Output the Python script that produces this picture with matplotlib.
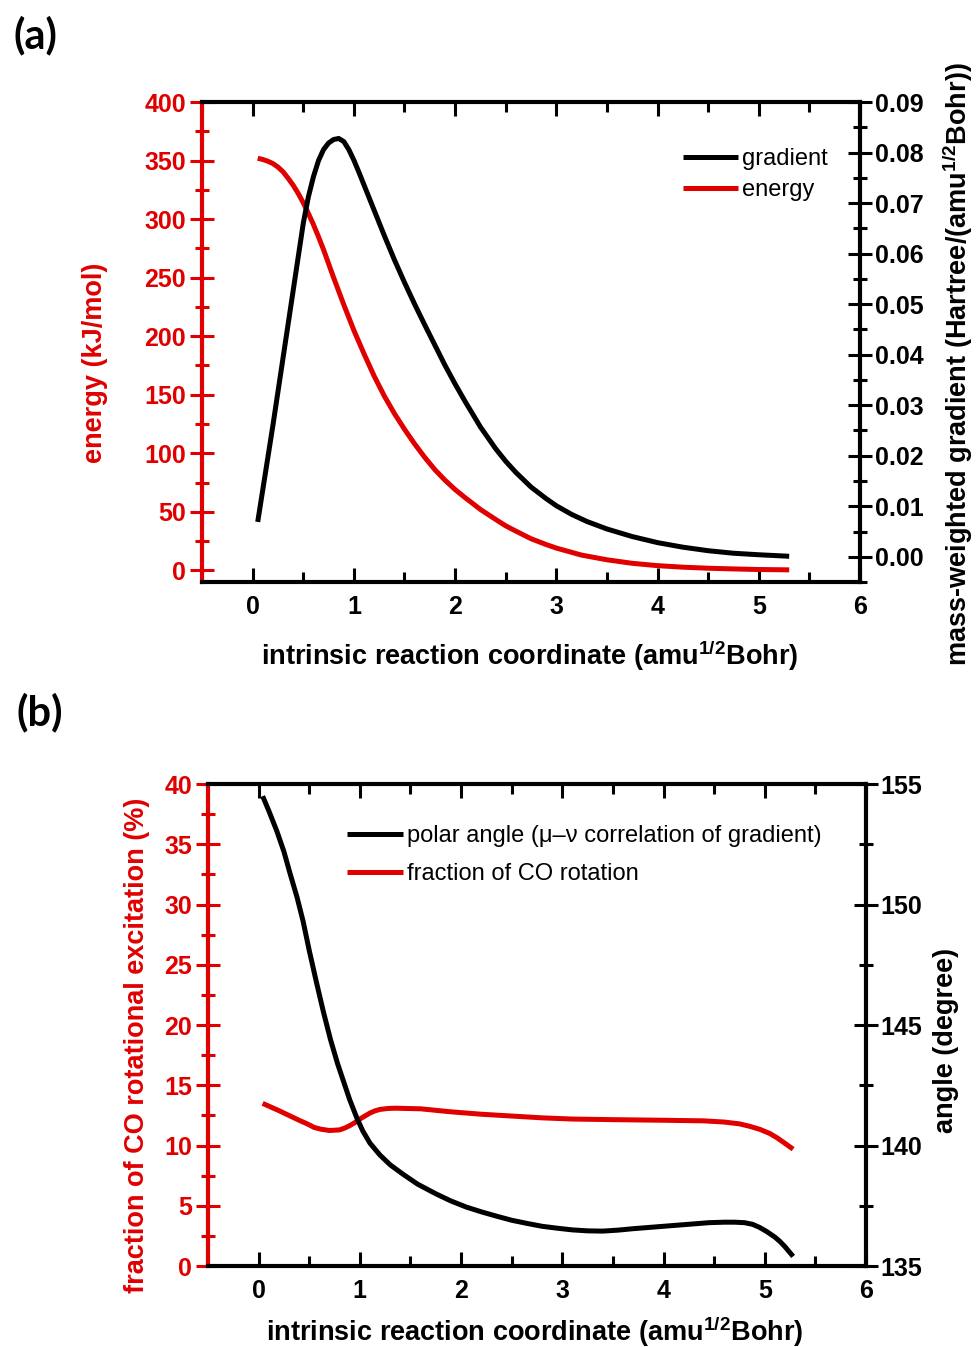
import matplotlib
matplotlib.use('Agg')
import matplotlib.pyplot as plt
from matplotlib.ticker import MultipleLocator, FormatStrFormatter

plt.rcParams['font.family'] = ['Liberation Sans', 'DejaVu Sans']
plt.rcParams['mathtext.default'] = 'regular'

RED = '#E00000'

# ---------------- panel (a) data ----------------
irc_energy = [0.05, 0.1, 0.15, 0.2, 0.25, 0.3, 0.35, 0.4, 0.45, 0.5, 0.55, 0.6,
              0.65, 0.7, 0.75, 0.8, 0.9, 1.0, 1.1, 1.2, 1.3, 1.4, 1.5, 1.6, 1.7,
              1.8, 1.9, 2.0, 2.1, 2.25, 2.4, 2.5, 2.6, 2.75, 2.9, 3.0, 3.25, 3.5,
              3.75, 4.0, 4.25, 4.5, 4.75, 5.0, 5.3]
energy = [352, 351, 349.5, 347.5, 344.5, 340.5, 335, 329, 322, 314, 305, 295.5,
          285, 274, 262, 250, 227, 205, 185, 166, 149, 134, 120.5, 108, 96.5,
          86, 77, 69, 62, 52, 43.5, 38, 33.5, 27, 22, 19, 13, 9,
          6, 4, 2.7, 1.8, 1.2, 0.7, 0.4]

irc_grad = [0.05, 0.2, 0.35, 0.5, 0.55, 0.6, 0.65, 0.7, 0.75, 0.8, 0.85, 0.9,
            0.95, 1.0, 1.05, 1.1, 1.2, 1.3, 1.4, 1.5, 1.6, 1.7, 1.8, 1.9, 2.0,
            2.1, 2.25, 2.4, 2.5, 2.6, 2.75, 2.9, 3.0, 3.15, 3.3, 3.5, 3.75, 4.0,
            4.25, 4.5, 4.75, 5.0, 5.3]
gradient = [0.0069, 0.026, 0.046, 0.066, 0.0712, 0.0752, 0.0784, 0.0806, 0.0819,
            0.0826, 0.0828, 0.0822, 0.0806, 0.0785, 0.0761, 0.0736, 0.0686,
            0.0636, 0.0588, 0.0543, 0.0500, 0.0459, 0.0419, 0.0379, 0.0342,
            0.0307, 0.0257, 0.0214, 0.0189, 0.0167, 0.0138, 0.0115, 0.0101,
            0.0084, 0.0070, 0.0055, 0.0040, 0.0028, 0.0019, 0.0012, 0.0007,
            0.0004, 0.0001]

# ---------------- panel (b) data ----------------
irc_frac = [0.04, 0.12, 0.2, 0.3, 0.4, 0.48, 0.55, 0.62, 0.7, 0.8, 0.85, 0.9,
            0.95, 1.0, 1.05, 1.1, 1.15, 1.2, 1.28, 1.35, 1.6, 1.9, 2.2, 2.5, 2.8,
            3.1, 3.5, 4.0, 4.4, 4.6, 4.75, 4.85, 4.95, 5.05, 5.12, 5.18, 5.23, 5.28]
fraction = [13.5, 13.2, 12.9, 12.5, 12.1, 11.8, 11.5, 11.35, 11.25, 11.3, 11.45,
            11.65, 11.9, 12.2, 12.45, 12.7, 12.88, 13.0, 13.08, 13.1, 13.05,
            12.8, 12.6, 12.45, 12.3, 12.2, 12.15, 12.1, 12.05, 11.95, 11.8,
            11.6, 11.35, 11.0, 10.65, 10.3, 10.0, 9.7]

irc_angle = [0.04, 0.1, 0.18, 0.25, 0.31, 0.38, 0.44, 0.5, 0.57, 0.64, 0.71, 0.78,
             0.84, 0.9, 0.97, 1.03, 1.1, 1.2, 1.3, 1.43, 1.57, 1.75, 1.9, 2.05,
             2.2, 2.35, 2.5, 2.65, 2.8, 2.95, 3.1, 3.25, 3.4, 3.55, 3.7, 3.85,
             4.0, 4.15, 4.3, 4.45, 4.6, 4.7, 4.8, 4.88, 4.95, 5.02, 5.1, 5.15,
             5.2, 5.24, 5.28]
angle = [154.5, 153.9, 153.05, 152.2, 151.3, 150.3, 149.3, 148.1, 146.8, 145.55,
         144.4, 143.4, 142.65, 141.9, 141.15, 140.6, 140.1, 139.6, 139.2, 138.8,
         138.4, 138.0, 137.7, 137.45, 137.25, 137.07, 136.9, 136.77, 136.65,
         136.57, 136.5, 136.46, 136.45, 136.49, 136.55, 136.6, 136.65, 136.7,
         136.75, 136.8, 136.82, 136.82, 136.8, 136.73, 136.6, 136.43, 136.2,
         136.02, 135.8, 135.6, 135.4]

x_ticks_major, x_ticks_minor = 1, 0.5
xlim = (-0.5, 6)

fig = plt.figure(figsize=(9.76, 13.47), dpi=100)

LW_SP = 3.0
LW_LINE = 3.6
TICK_FS = 18
LABEL_FS = 19.5
LEG_FS = 17


def style(ax, ax2, ymaj_l, ymin_l, ymaj_r, ymin_r, rfmt):
    ax.set_xlim(*xlim)
    ax.xaxis.set_major_locator(MultipleLocator(x_ticks_major))
    ax.xaxis.set_minor_locator(MultipleLocator(x_ticks_minor))
    ax.yaxis.set_major_locator(MultipleLocator(ymaj_l))
    ax.yaxis.set_minor_locator(MultipleLocator(ymin_l))
    ax2.yaxis.set_major_locator(MultipleLocator(ymaj_r))
    ax2.yaxis.set_minor_locator(MultipleLocator(ymin_r))
    ax2.yaxis.set_major_formatter(FormatStrFormatter(rfmt))
    for s in ['top', 'bottom', 'right']:
        ax.spines[s].set_linewidth(LW_SP)
        ax.spines[s].set_color('black')
    ax.spines['right'].set_visible(False)
    ax.spines['left'].set_color(RED)
    ax.spines['left'].set_linewidth(LW_SP)
    for s in ['top', 'bottom', 'left']:
        ax2.spines[s].set_visible(False)
    ax2.spines['right'].set_linewidth(LW_SP)
    ax2.spines['right'].set_color('black')
    ax.tick_params(axis='x', which='major', direction='in', length=10, width=2.2,
                   top=True, bottom=True, labelsize=TICK_FS, pad=9, colors='black')
    ax.tick_params(axis='x', which='minor', direction='in', length=7, width=2.2,
                   top=True, bottom=True)
    ax.tick_params(axis='y', which='major', direction='inout', length=17, width=2.2,
                   colors=RED, labelsize=TICK_FS, pad=3, left=True, right=False)
    ax.tick_params(axis='y', which='minor', direction='inout', length=10, width=2.2,
                   colors=RED, left=True, right=False)
    ax2.tick_params(axis='y', which='major', direction='inout', length=17, width=2.2,
                    colors='black', labelsize=TICK_FS, pad=2)
    ax2.tick_params(axis='y', which='minor', direction='inout', length=10, width=2.2,
                    colors='black')
    for lbl in ax.get_xticklabels() + ax.get_yticklabels() + ax2.get_yticklabels():
        lbl.set_fontweight('bold')


xlabel = 'intrinsic reaction coordinate (amu$^{1/2}$Bohr)'

# ---------------- panel (a) ----------------
axa = fig.add_axes([0.2070, 0.5679, 0.6742, 0.3563])
axa2 = axa.twinx()
axa.set_ylim(-10, 400)
axa2.set_ylim(-0.005, 0.09)
la_e, = axa.plot(irc_energy, energy, color=RED, lw=LW_LINE, solid_capstyle='butt',
                 solid_joinstyle='round')
la_g, = axa2.plot(irc_grad, gradient, color='black', lw=LW_LINE, solid_capstyle='butt',
                  solid_joinstyle='round')
style(axa, axa2, 50, 25, 0.01, 0.005, '%.2f')
axa.set_xlabel(xlabel, fontsize=LABEL_FS, fontweight='bold')
axa.xaxis.set_label_coords(0.4985, -0.118)
axa.set_ylabel('energy (kJ/mol)', fontsize=LABEL_FS, fontweight='bold', color=RED)
axa.yaxis.set_label_coords(-0.143, 0.456)
axa2.set_ylabel('mass-weighted gradient (Hartree/(amu$^{1/2}$Bohr))',
                fontsize=19.5, fontweight='bold', color='black')
axa2.yaxis.set_label_coords(1.122, 0.455)
axa2.legend([la_g, la_e], ['gradient', 'energy'], loc='upper left',
            bbox_to_anchor=(0.731, 0.904), frameon=False, borderpad=0,
            borderaxespad=0, handlelength=2.33, handletextpad=0.17,
            labelspacing=0.38, prop={'size': LEG_FS, 'weight': 'normal'})

# ---------------- panel (b) ----------------
axb = fig.add_axes([0.2131, 0.0601, 0.6742, 0.3578])
axb2 = axb.twinx()
axb.set_ylim(0, 40)
axb2.set_ylim(135, 155)
lb_f, = axb.plot(irc_frac, fraction, color=RED, lw=LW_LINE, solid_capstyle='butt',
                 solid_joinstyle='round')
lb_a, = axb2.plot(irc_angle, angle, color='black', lw=LW_LINE, solid_capstyle='butt',
                  solid_joinstyle='round')
style(axb, axb2, 5, 2.5, 5, 2.5, '%d')
axb.set_xlabel(xlabel, fontsize=LABEL_FS, fontweight='bold')
axb.xaxis.set_label_coords(0.497, -0.100)
axb.set_ylabel('fraction of CO rotational excitation (%)', fontsize=LABEL_FS,
               fontweight='bold', color=RED)
axb.yaxis.set_label_coords(-0.088, 0.4585)
axb2.set_ylabel('angle (degree)', fontsize=LABEL_FS, fontweight='bold', color='black')
axb2.yaxis.set_label_coords(1.1018, 0.469)
axb2.legend([lb_a, lb_f], ['polar angle (μ–ν correlation of gradient)',
                           'fraction of CO rotation'], loc='upper left',
            bbox_to_anchor=(0.2112, 0.915), frameon=False, borderpad=0,
            borderaxespad=0, handlelength=2.37, handletextpad=0.17,
            labelspacing=0.68, prop={'size': LEG_FS, 'weight': 'normal'})

fig.text(0.036, 0.974, '(a)', fontsize=30, fontweight='bold', family=['Lato', 'DejaVu Sans'],
         ha='center', va='center')
fig.text(0.041, 0.4714, '(b)', fontsize=30, fontweight='bold', family=['Lato', 'DejaVu Sans'],
         ha='center', va='center')

fig.savefig('out.png', dpi=100)
